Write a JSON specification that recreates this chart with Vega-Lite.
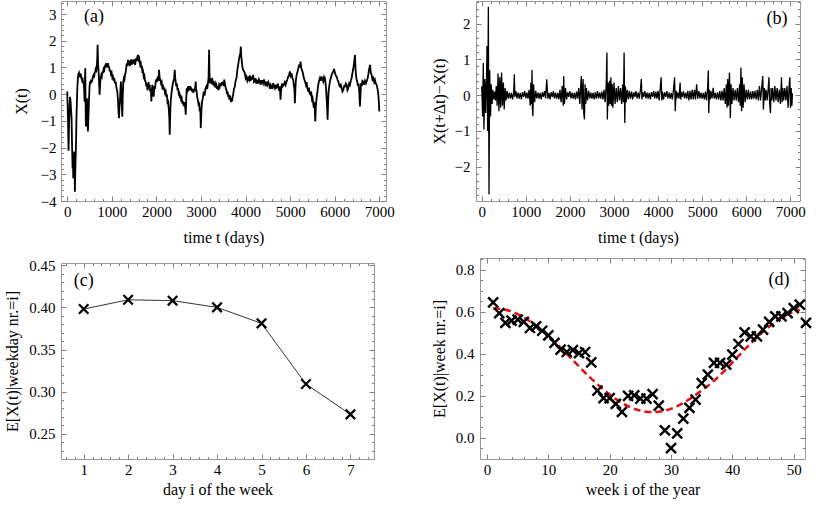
{
"$schema":"https://vega.github.io/schema/vega-lite/v6.json",
"padding":{"left":4,"top":0,"right":4,"bottom":2},
"background":"white",
"config":{
 "font":"Liberation Serif",
 "view":{"stroke":"#999","strokeWidth":1},
 "axis":{"labelFont":"Liberation Serif","labelFontSize":15,"labelColor":"black","titleFont":"Liberation Serif","titleFontSize":16,"titleFontWeight":"normal","titleColor":"black","domain":false,"grid":false,"tickColor":"#808080","tickWidth":1,"labelFlush":false,"labelOverlap":false}
},
"datasets":{
"A":[{"t":0,"v":0.1},{"t":15,"v":-0.8},{"t":30,"v":-2.12},{"t":40,"v":-1.2},{"t":52,"v":-0.52},{"t":63,"v":-0.1},{"t":75,"v":-0.27},{"t":86,"v":-0.6},{"t":97,"v":-0.9},{"t":108,"v":-1.9},{"t":120,"v":-2.77},{"t":128,"v":-2.4},{"t":135,"v":-3.15},{"t":146,"v":-2.5},{"t":157,"v":-2.15},{"t":165,"v":-2.9},{"t":172,"v":-3.65},{"t":184,"v":-2.6},{"t":195,"v":-2.02},{"t":205,"v":-1.0},{"t":217,"v":-0.27},{"t":228,"v":0.3},{"t":240,"v":0.6},{"t":250,"v":0.75},{"t":262,"v":0.8},{"t":276,"v":0.65},{"t":290,"v":0.78},{"t":302,"v":0.6},{"t":314,"v":0.66},{"t":328,"v":0.55},{"t":341,"v":0.62},{"t":355,"v":0.4},{"t":367,"v":0.47},{"t":378,"v":0.2},{"t":389,"v":-0.27},{"t":397,"v":0.5},{"t":404,"v":0.97},{"t":411,"v":-0.3},{"t":419,"v":-1.21},{"t":430,"v":-0.5},{"t":442,"v":-0.15},{"t":453,"v":-0.9},{"t":464,"v":-1.4},{"t":476,"v":-0.8},{"t":487,"v":-0.27},{"t":498,"v":0.2},{"t":509,"v":0.47},{"t":522,"v":0.38},{"t":536,"v":0.55},{"t":549,"v":0.45},{"t":562,"v":0.53},{"t":575,"v":0.65},{"t":588,"v":0.7},{"t":601,"v":0.62},{"t":614,"v":0.79},{"t":627,"v":0.85},{"t":640,"v":0.95},{"t":653,"v":0.9},{"t":666,"v":1.09},{"t":674,"v":1.4},{"t":681,"v":1.85},{"t":692,"v":1.1},{"t":704,"v":0.85},{"t":715,"v":0.4},{"t":726,"v":-0.02},{"t":738,"v":0.4},{"t":749,"v":0.6},{"t":762,"v":0.7},{"t":775,"v":0.65},{"t":788,"v":0.85},{"t":801,"v":0.79},{"t":816,"v":0.95},{"t":831,"v":0.9},{"t":846,"v":1.05},{"t":861,"v":1.1},{"t":874,"v":1.0},{"t":887,"v":1.15},{"t":900,"v":1.08},{"t":913,"v":1.16},{"t":926,"v":1.05},{"t":940,"v":1.0},{"t":953,"v":0.85},{"t":966,"v":0.91},{"t":981,"v":0.75},{"t":996,"v":0.8},{"t":1011,"v":0.62},{"t":1026,"v":0.66},{"t":1041,"v":0.5},{"t":1056,"v":0.6},{"t":1071,"v":0.4},{"t":1086,"v":0.47},{"t":1098,"v":0.3},{"t":1110,"v":0.2},{"t":1123,"v":0.1},{"t":1141,"v":-0.3},{"t":1152,"v":-0.7},{"t":1160,"v":-0.9},{"t":1171,"v":-0.5},{"t":1183,"v":-0.27},{"t":1194,"v":0.2},{"t":1205,"v":0.47},{"t":1220,"v":-0.2},{"t":1235,"v":-0.84},{"t":1246,"v":0.0},{"t":1258,"v":0.47},{"t":1271,"v":0.6},{"t":1284,"v":0.55},{"t":1297,"v":0.75},{"t":1310,"v":0.79},{"t":1323,"v":1.0},{"t":1336,"v":1.15},{"t":1349,"v":1.05},{"t":1363,"v":1.29},{"t":1376,"v":1.1},{"t":1389,"v":1.25},{"t":1402,"v":1.05},{"t":1415,"v":1.16},{"t":1430,"v":1.3},{"t":1445,"v":1.1},{"t":1460,"v":1.2},{"t":1475,"v":1.29},{"t":1490,"v":1.15},{"t":1505,"v":1.3},{"t":1520,"v":1.1},{"t":1535,"v":1.22},{"t":1548,"v":1.35},{"t":1561,"v":1.25},{"t":1574,"v":1.4},{"t":1587,"v":1.47},{"t":1600,"v":1.3},{"t":1612,"v":1.35},{"t":1625,"v":1.22},{"t":1637,"v":1.1},{"t":1650,"v":1.15},{"t":1662,"v":0.97},{"t":1675,"v":1.05},{"t":1687,"v":0.8},{"t":1700,"v":0.85},{"t":1715,"v":0.65},{"t":1730,"v":0.7},{"t":1745,"v":0.5},{"t":1759,"v":0.47},{"t":1772,"v":0.3},{"t":1786,"v":0.4},{"t":1799,"v":0.15},{"t":1812,"v":0.22},{"t":1824,"v":0.45},{"t":1837,"v":0.25},{"t":1849,"v":0.35},{"t":1862,"v":0.1},{"t":1875,"v":0.2},{"t":1887,"v":-0.27},{"t":1898,"v":0.1},{"t":1909,"v":0.35},{"t":1924,"v":0.05},{"t":1939,"v":-0.09},{"t":1954,"v":0.3},{"t":1969,"v":0.2},{"t":1984,"v":0.47},{"t":1997,"v":0.55},{"t":2010,"v":0.45},{"t":2023,"v":0.6},{"t":2036,"v":0.66},{"t":2048,"v":0.5},{"t":2059,"v":0.91},{"t":2074,"v":0.6},{"t":2089,"v":0.53},{"t":2104,"v":0.4},{"t":2119,"v":0.45},{"t":2134,"v":0.25},{"t":2149,"v":0.29},{"t":2164,"v":0.15},{"t":2179,"v":0.25},{"t":2194,"v":0.05},{"t":2209,"v":0.1},{"t":2222,"v":-0.1},{"t":2235,"v":0.0},{"t":2248,"v":-0.3},{"t":2261,"v":-0.27},{"t":2280,"v":-0.6},{"t":2290,"v":-0.9},{"t":2299,"v":-1.52},{"t":2310,"v":-0.7},{"t":2321,"v":-0.27},{"t":2336,"v":0.0},{"t":2351,"v":0.22},{"t":2370,"v":0.4},{"t":2388,"v":0.53},{"t":2400,"v":0.6},{"t":2411,"v":0.91},{"t":2422,"v":0.6},{"t":2433,"v":0.47},{"t":2446,"v":0.3},{"t":2460,"v":0.4},{"t":2473,"v":0.15},{"t":2486,"v":0.22},{"t":2499,"v":0.05},{"t":2512,"v":0.1},{"t":2525,"v":-0.15},{"t":2538,"v":-0.02},{"t":2553,"v":-0.2},{"t":2568,"v":-0.15},{"t":2583,"v":-0.35},{"t":2598,"v":-0.27},{"t":2611,"v":-0.45},{"t":2625,"v":-0.3},{"t":2635,"v":-0.4},{"t":2647,"v":-0.5},{"t":2658,"v":-0.77},{"t":2669,"v":-0.2},{"t":2680,"v":0.22},{"t":2695,"v":0.15},{"t":2710,"v":0.29},{"t":2725,"v":0.2},{"t":2740,"v":0.3},{"t":2755,"v":0.15},{"t":2770,"v":0.25},{"t":2785,"v":0.22},{"t":2800,"v":0.1},{"t":2815,"v":0.2},{"t":2830,"v":0.05},{"t":2845,"v":0.15},{"t":2860,"v":0.16},{"t":2872,"v":0.3},{"t":2883,"v":0.47},{"t":2890,"v":0.1},{"t":2898,"v":0.16},{"t":2915,"v":-0.1},{"t":2935,"v":-0.27},{"t":2950,"v":-0.45},{"t":2962,"v":-0.3},{"t":2972,"v":-0.65},{"t":2985,"v":-0.5},{"t":2995,"v":-1.27},{"t":3010,"v":-0.6},{"t":3025,"v":-0.27},{"t":3043,"v":-0.15},{"t":3062,"v":0.1},{"t":3080,"v":-0.05},{"t":3100,"v":0.2},{"t":3122,"v":0.29},{"t":3140,"v":0.2},{"t":3160,"v":0.47},{"t":3170,"v":0.6},{"t":3182,"v":1.66},{"t":3194,"v":0.5},{"t":3205,"v":0.41},{"t":3220,"v":0.6},{"t":3235,"v":0.45},{"t":3257,"v":0.53},{"t":3270,"v":0.35},{"t":3283,"v":0.5},{"t":3296,"v":0.3},{"t":3309,"v":0.41},{"t":3322,"v":0.25},{"t":3335,"v":0.4},{"t":3347,"v":0.35},{"t":3362,"v":0.2},{"t":3377,"v":0.3},{"t":3392,"v":0.15},{"t":3407,"v":0.35},{"t":3422,"v":0.29},{"t":3437,"v":0.4},{"t":3452,"v":0.3},{"t":3467,"v":0.45},{"t":3482,"v":0.35},{"t":3497,"v":0.47},{"t":3510,"v":0.3},{"t":3522,"v":0.55},{"t":3534,"v":0.41},{"t":3547,"v":0.3},{"t":3560,"v":0.2},{"t":3572,"v":0.16},{"t":3585,"v":0.0},{"t":3598,"v":0.1},{"t":3611,"v":-0.1},{"t":3624,"v":-0.02},{"t":3636,"v":-0.2},{"t":3649,"v":-0.05},{"t":3661,"v":-0.15},{"t":3674,"v":-0.3},{"t":3687,"v":-0.15},{"t":3699,"v":-0.27},{"t":3710,"v":-0.1},{"t":3721,"v":-0.02},{"t":3740,"v":0.2},{"t":3759,"v":0.29},{"t":3777,"v":0.5},{"t":3796,"v":0.6},{"t":3815,"v":0.9},{"t":3834,"v":1.1},{"t":3852,"v":1.3},{"t":3871,"v":1.47},{"t":3882,"v":1.5},{"t":3893,"v":1.78},{"t":3905,"v":1.4},{"t":3916,"v":1.22},{"t":3931,"v":1.0},{"t":3946,"v":0.91},{"t":3965,"v":0.85},{"t":3983,"v":0.79},{"t":4002,"v":0.6},{"t":4021,"v":0.66},{"t":4040,"v":0.5},{"t":4060,"v":0.6},{"t":4080,"v":0.53},{"t":4096,"v":0.7},{"t":4115,"v":0.5},{"t":4133,"v":0.66},{"t":4150,"v":0.55},{"t":4170,"v":0.72},{"t":4190,"v":0.45},{"t":4208,"v":0.47},{"t":4225,"v":0.6},{"t":4243,"v":0.4},{"t":4260,"v":0.53},{"t":4280,"v":0.4},{"t":4300,"v":0.55},{"t":4320,"v":0.47},{"t":4337,"v":0.35},{"t":4355,"v":0.5},{"t":4373,"v":0.5},{"t":4393,"v":0.4},{"t":4413,"v":0.55},{"t":4433,"v":0.41},{"t":4450,"v":0.3},{"t":4470,"v":0.47},{"t":4490,"v":0.35},{"t":4510,"v":0.45},{"t":4530,"v":0.35},{"t":4548,"v":0.2},{"t":4565,"v":0.35},{"t":4582,"v":0.29},{"t":4600,"v":0.2},{"t":4620,"v":0.41},{"t":4638,"v":0.3},{"t":4657,"v":0.22},{"t":4675,"v":0.35},{"t":4692,"v":0.25},{"t":4709,"v":0.29},{"t":4725,"v":0.4},{"t":4740,"v":0.2},{"t":4754,"v":0.16},{"t":4770,"v":0.3},{"t":4784,"v":-0.21},{"t":4795,"v":0.1},{"t":4806,"v":0.29},{"t":4820,"v":0.4},{"t":4836,"v":0.3},{"t":4859,"v":0.35},{"t":4880,"v":0.45},{"t":4900,"v":0.35},{"t":4919,"v":0.47},{"t":4937,"v":0.55},{"t":4956,"v":0.66},{"t":4975,"v":0.7},{"t":4994,"v":0.85},{"t":5012,"v":0.7},{"t":5031,"v":0.79},{"t":5050,"v":0.6},{"t":5069,"v":0.53},{"t":5085,"v":0.3},{"t":5096,"v":0.2},{"t":5106,"v":-0.34},{"t":5118,"v":0.2},{"t":5129,"v":0.53},{"t":5143,"v":0.7},{"t":5158,"v":0.79},{"t":5180,"v":0.95},{"t":5203,"v":1.1},{"t":5218,"v":1.0},{"t":5233,"v":1.22},{"t":5248,"v":1.0},{"t":5263,"v":0.91},{"t":5285,"v":0.8},{"t":5308,"v":0.6},{"t":5330,"v":0.5},{"t":5353,"v":0.35},{"t":5370,"v":0.45},{"t":5388,"v":0.2},{"t":5406,"v":0.1},{"t":5420,"v":0.25},{"t":5434,"v":0.05},{"t":5458,"v":-0.02},{"t":5470,"v":0.1},{"t":5490,"v":-0.2},{"t":5503,"v":-0.15},{"t":5518,"v":-0.35},{"t":5533,"v":-0.52},{"t":5548,"v":-0.3},{"t":5563,"v":-1.02},{"t":5578,"v":-0.4},{"t":5593,"v":-0.15},{"t":5612,"v":0.1},{"t":5630,"v":0.35},{"t":5649,"v":0.5},{"t":5668,"v":0.6},{"t":5686,"v":0.5},{"t":5705,"v":0.66},{"t":5724,"v":0.55},{"t":5743,"v":0.47},{"t":5762,"v":0.65},{"t":5780,"v":0.6},{"t":5795,"v":0.4},{"t":5806,"v":0.2},{"t":5818,"v":-0.15},{"t":5829,"v":-0.5},{"t":5840,"v":-0.96},{"t":5851,"v":-0.3},{"t":5862,"v":0.1},{"t":5877,"v":0.3},{"t":5892,"v":0.47},{"t":5911,"v":0.6},{"t":5930,"v":0.72},{"t":5949,"v":0.8},{"t":5967,"v":0.85},{"t":5986,"v":0.95},{"t":6005,"v":0.79},{"t":6024,"v":0.7},{"t":6042,"v":0.66},{"t":6061,"v":0.55},{"t":6080,"v":0.47},{"t":6098,"v":0.35},{"t":6117,"v":0.29},{"t":6136,"v":0.35},{"t":6155,"v":0.22},{"t":6173,"v":0.1},{"t":6192,"v":0.16},{"t":6211,"v":0.3},{"t":6230,"v":0.29},{"t":6248,"v":0.4},{"t":6267,"v":0.35},{"t":6286,"v":0.15},{"t":6305,"v":0.22},{"t":6323,"v":0.4},{"t":6342,"v":0.35},{"t":6360,"v":0.5},{"t":6379,"v":0.6},{"t":6398,"v":0.8},{"t":6417,"v":0.97},{"t":6436,"v":1.2},{"t":6454,"v":1.47},{"t":6465,"v":1.0},{"t":6476,"v":0.72},{"t":6491,"v":0.55},{"t":6506,"v":0.47},{"t":6520,"v":0.3},{"t":6536,"v":0.4},{"t":6550,"v":0.1},{"t":6566,"v":-0.46},{"t":6578,"v":0.0},{"t":6589,"v":0.41},{"t":6605,"v":0.3},{"t":6620,"v":0.5},{"t":6641,"v":0.47},{"t":6660,"v":0.35},{"t":6680,"v":0.5},{"t":6701,"v":0.41},{"t":6720,"v":0.5},{"t":6738,"v":0.6},{"t":6755,"v":0.75},{"t":6768,"v":0.91},{"t":6780,"v":1.0},{"t":6791,"v":1.1},{"t":6810,"v":0.8},{"t":6828,"v":0.72},{"t":6847,"v":0.55},{"t":6866,"v":0.6},{"t":6885,"v":0.45},{"t":6903,"v":0.53},{"t":6920,"v":0.4},{"t":6940,"v":0.35},{"t":6960,"v":0.2},{"t":6978,"v":-0.02},{"t":6990,"v":-0.3},{"t":7000,"v":-0.65}],
"B":[{"t":0,"v":0.25},{"t":20,"v":-0.6},{"t":35,"v":0.9},{"t":50,"v":-0.96},{"t":70,"v":0.45},{"t":90,"v":-0.5},{"t":110,"v":0.6},{"t":120,"v":1.37},{"t":135,"v":-1.0},{"t":150,"v":2.47},{"t":165,"v":-2.78},{"t":180,"v":0.7},{"t":200,"v":-0.6},{"t":215,"v":0.3},{"t":235,"v":-0.25},{"t":250,"v":0.15},{"t":270,"v":-0.12},{"t":290,"v":0.1},{"t":310,"v":-0.15},{"t":330,"v":0.25},{"t":350,"v":-0.3},{"t":370,"v":0.6},{"t":390,"v":-0.45},{"t":410,"v":0.5},{"t":430,"v":-0.35},{"t":450,"v":0.63},{"t":470,"v":-0.3},{"t":490,"v":0.35},{"t":510,"v":-0.4},{"t":530,"v":0.2},{"t":550,"v":-0.15},{"t":575,"v":0.12},{"t":600,"v":-0.1},{"t":625,"v":0.07},{"t":650,"v":-0.1},{"t":675,"v":0.06},{"t":700,"v":-0.12},{"t":725,"v":0.08},{"t":740,"v":0.58},{"t":750,"v":-0.05},{"t":775,"v":0.11},{"t":800,"v":-0.09},{"t":825,"v":0.07},{"t":850,"v":-0.1},{"t":875,"v":0.06},{"t":900,"v":-0.12},{"t":925,"v":0.08},{"t":950,"v":-0.05},{"t":975,"v":0.11},{"t":1000,"v":-0.09},{"t":1025,"v":0.07},{"t":1050,"v":-0.1},{"t":1075,"v":0.15},{"t":1100,"v":-0.3},{"t":1115,"v":0.35},{"t":1130,"v":-0.25},{"t":1140,"v":0.7},{"t":1150,"v":-0.35},{"t":1160,"v":-0.59},{"t":1175,"v":0.3},{"t":1200,"v":-0.2},{"t":1225,"v":0.12},{"t":1250,"v":-0.09},{"t":1275,"v":0.07},{"t":1300,"v":-0.1},{"t":1325,"v":0.06},{"t":1350,"v":-0.12},{"t":1375,"v":0.08},{"t":1400,"v":-0.05},{"t":1425,"v":0.11},{"t":1450,"v":-0.09},{"t":1475,"v":0.44},{"t":1500,"v":-0.1},{"t":1525,"v":0.06},{"t":1550,"v":-0.12},{"t":1575,"v":0.08},{"t":1600,"v":-0.05},{"t":1625,"v":0.11},{"t":1650,"v":-0.09},{"t":1675,"v":0.07},{"t":1700,"v":-0.1},{"t":1725,"v":0.06},{"t":1750,"v":-0.12},{"t":1775,"v":0.15},{"t":1800,"v":-0.2},{"t":1825,"v":0.25},{"t":1850,"v":-0.3},{"t":1860,"v":0.53},{"t":1875,"v":-0.25},{"t":1900,"v":0.2},{"t":1925,"v":-0.12},{"t":1950,"v":0.08},{"t":1975,"v":-0.05},{"t":2000,"v":0.11},{"t":2025,"v":-0.09},{"t":2050,"v":0.07},{"t":2075,"v":-0.1},{"t":2100,"v":0.06},{"t":2125,"v":-0.12},{"t":2150,"v":0.1},{"t":2175,"v":-0.1},{"t":2200,"v":0.2},{"t":2225,"v":-0.25},{"t":2250,"v":0.35},{"t":2260,"v":0.53},{"t":2275,"v":-0.4},{"t":2300,"v":0.45},{"t":2315,"v":-0.5},{"t":2330,"v":-0.68},{"t":2345,"v":0.3},{"t":2360,"v":-0.25},{"t":2375,"v":0.2},{"t":2400,"v":-0.15},{"t":2425,"v":0.12},{"t":2450,"v":-0.09},{"t":2475,"v":0.07},{"t":2500,"v":-0.1},{"t":2525,"v":0.06},{"t":2550,"v":-0.12},{"t":2575,"v":0.08},{"t":2600,"v":-0.1},{"t":2625,"v":0.11},{"t":2650,"v":-0.09},{"t":2675,"v":0.07},{"t":2700,"v":-0.1},{"t":2725,"v":0.1},{"t":2750,"v":-0.12},{"t":2775,"v":0.15},{"t":2800,"v":-0.2},{"t":2825,"v":0.3},{"t":2840,"v":1.19},{"t":2850,"v":-0.68},{"t":2865,"v":0.35},{"t":2880,"v":-0.3},{"t":2900,"v":0.4},{"t":2915,"v":-0.25},{"t":2930,"v":0.5},{"t":2945,"v":-0.3},{"t":2960,"v":0.3},{"t":2975,"v":-0.35},{"t":3000,"v":0.35},{"t":3025,"v":-0.25},{"t":3050,"v":0.2},{"t":3075,"v":-0.2},{"t":3100,"v":0.25},{"t":3125,"v":-0.15},{"t":3150,"v":0.2},{"t":3175,"v":-0.25},{"t":3200,"v":0.3},{"t":3215,"v":-0.2},{"t":3230,"v":1.19},{"t":3245,"v":-0.78},{"t":3260,"v":0.25},{"t":3275,"v":-0.2},{"t":3300,"v":0.15},{"t":3325,"v":-0.12},{"t":3350,"v":0.12},{"t":3375,"v":-0.1},{"t":3400,"v":0.1},{"t":3425,"v":-0.12},{"t":3450,"v":0.08},{"t":3475,"v":-0.05},{"t":3500,"v":0.11},{"t":3525,"v":-0.09},{"t":3550,"v":0.07},{"t":3575,"v":-0.1},{"t":3600,"v":0.15},{"t":3620,"v":0.45},{"t":3635,"v":-0.12},{"t":3650,"v":0.08},{"t":3675,"v":-0.05},{"t":3700,"v":0.11},{"t":3725,"v":-0.09},{"t":3750,"v":0.07},{"t":3775,"v":-0.1},{"t":3800,"v":0.06},{"t":3825,"v":-0.12},{"t":3850,"v":0.08},{"t":3875,"v":-0.05},{"t":3900,"v":0.11},{"t":3925,"v":-0.09},{"t":3950,"v":0.1},{"t":3975,"v":-0.1},{"t":4000,"v":0.12},{"t":4025,"v":-0.15},{"t":4050,"v":0.2},{"t":4070,"v":0.5},{"t":4085,"v":-0.15},{"t":4100,"v":0.1},{"t":4125,"v":-0.12},{"t":4150,"v":0.08},{"t":4175,"v":-0.05},{"t":4200,"v":0.11},{"t":4225,"v":-0.09},{"t":4250,"v":0.07},{"t":4275,"v":-0.1},{"t":4300,"v":0.06},{"t":4325,"v":-0.12},{"t":4350,"v":0.15},{"t":4375,"v":0.5},{"t":4390,"v":-0.45},{"t":4410,"v":0.12},{"t":4425,"v":-0.09},{"t":4450,"v":0.07},{"t":4475,"v":-0.1},{"t":4500,"v":0.35},{"t":4515,"v":-0.12},{"t":4525,"v":0.08},{"t":4550,"v":-0.05},{"t":4575,"v":0.11},{"t":4600,"v":-0.09},{"t":4625,"v":0.07},{"t":4650,"v":-0.1},{"t":4675,"v":0.12},{"t":4700,"v":-0.15},{"t":4725,"v":0.12},{"t":4750,"v":-0.12},{"t":4775,"v":0.15},{"t":4800,"v":-0.12},{"t":4825,"v":0.15},{"t":4850,"v":-0.12},{"t":4875,"v":0.3},{"t":4900,"v":-0.1},{"t":4925,"v":0.11},{"t":4950,"v":-0.09},{"t":4975,"v":0.07},{"t":5000,"v":-0.1},{"t":5025,"v":0.06},{"t":5050,"v":-0.12},{"t":5075,"v":0.1},{"t":5100,"v":-0.15},{"t":5125,"v":0.2},{"t":5140,"v":0.69},{"t":5150,"v":-0.5},{"t":5165,"v":0.15},{"t":5185,"v":-0.12},{"t":5200,"v":0.11},{"t":5225,"v":-0.09},{"t":5250,"v":0.2},{"t":5275,"v":-0.1},{"t":5300,"v":0.06},{"t":5325,"v":-0.12},{"t":5350,"v":0.08},{"t":5375,"v":-0.12},{"t":5400,"v":0.11},{"t":5425,"v":-0.15},{"t":5450,"v":0.12},{"t":5475,"v":-0.15},{"t":5500,"v":0.2},{"t":5525,"v":-0.25},{"t":5550,"v":0.3},{"t":5565,"v":-0.35},{"t":5580,"v":0.45},{"t":5595,"v":-0.3},{"t":5620,"v":0.63},{"t":5640,"v":-0.64},{"t":5655,"v":0.3},{"t":5675,"v":-0.25},{"t":5700,"v":0.2},{"t":5725,"v":-0.15},{"t":5750,"v":0.15},{"t":5775,"v":-0.15},{"t":5800,"v":0.2},{"t":5825,"v":-0.2},{"t":5850,"v":0.3},{"t":5865,"v":-0.3},{"t":5880,"v":0.77},{"t":5895,"v":-0.45},{"t":5910,"v":0.5},{"t":5930,"v":-0.35},{"t":5950,"v":0.3},{"t":5975,"v":-0.2},{"t":6000,"v":0.15},{"t":6025,"v":-0.12},{"t":6050,"v":0.15},{"t":6075,"v":-0.12},{"t":6100,"v":0.1},{"t":6125,"v":-0.12},{"t":6150,"v":0.11},{"t":6175,"v":-0.1},{"t":6200,"v":0.12},{"t":6225,"v":-0.12},{"t":6250,"v":0.15},{"t":6275,"v":-0.15},{"t":6300,"v":0.25},{"t":6325,"v":-0.15},{"t":6350,"v":0.2},{"t":6375,"v":0.53},{"t":6390,"v":-0.4},{"t":6410,"v":0.2},{"t":6430,"v":-0.15},{"t":6450,"v":0.15},{"t":6475,"v":-0.15},{"t":6500,"v":0.2},{"t":6515,"v":0.5},{"t":6530,"v":-0.2},{"t":6550,"v":-0.5},{"t":6565,"v":0.2},{"t":6580,"v":-0.15},{"t":6600,"v":0.2},{"t":6625,"v":-0.2},{"t":6650,"v":0.25},{"t":6675,"v":-0.15},{"t":6700,"v":0.2},{"t":6725,"v":-0.2},{"t":6750,"v":0.15},{"t":6775,"v":-0.25},{"t":6800,"v":0.5},{"t":6815,"v":-0.2},{"t":6830,"v":0.2},{"t":6850,"v":-0.15},{"t":6875,"v":0.2},{"t":6900,"v":-0.15},{"t":6925,"v":0.25},{"t":6950,"v":-0.35},{"t":6975,"v":0.3},{"t":6990,"v":0.5},{"t":7005,"v":-0.35},{"t":7020,"v":0.2},{"t":7035,"v":-0.3},{"t":7050,"v":0.05}],
"C":[{"d":1,"m":0.398},{"d":2,"m":0.409},{"d":3,"m":0.408},{"d":4,"m":0.4},{"d":5,"m":0.381},{"d":6,"m":0.309},{"d":7,"m":0.273}],
"D":[{"w":1,"m":0.645},{"w":2,"m":0.594},{"w":3,"m":0.547},{"w":4,"m":0.558},{"w":5,"m":0.563},{"w":6,"m":0.552},{"w":7,"m":0.523},{"w":8,"m":0.531},{"w":9,"m":0.51},{"w":10,"m":0.488},{"w":11,"m":0.452},{"w":12,"m":0.42},{"w":13,"m":0.409},{"w":14,"m":0.418},{"w":15,"m":0.404},{"w":16,"m":0.409},{"w":17,"m":0.36},{"w":18,"m":0.225},{"w":19,"m":0.19},{"w":20,"m":0.19},{"w":21,"m":0.162},{"w":22,"m":0.124},{"w":23,"m":0.2},{"w":24,"m":0.203},{"w":25,"m":0.187},{"w":26,"m":0.187},{"w":27,"m":0.209},{"w":28,"m":0.154},{"w":29,"m":0.036},{"w":30,"m":-0.048},{"w":31,"m":0.022},{"w":32,"m":0.092},{"w":33,"m":0.143},{"w":34,"m":0.182},{"w":35,"m":0.261},{"w":36,"m":0.301},{"w":37,"m":0.357},{"w":38,"m":0.357},{"w":39,"m":0.349},{"w":40,"m":0.396},{"w":41,"m":0.447},{"w":42,"m":0.502},{"w":43,"m":0.483},{"w":44,"m":0.483},{"w":45,"m":0.515},{"w":46,"m":0.552},{"w":47,"m":0.578},{"w":48,"m":0.578},{"w":49,"m":0.594},{"w":50,"m":0.618},{"w":51,"m":0.634},{"w":52,"m":0.547}],
"F":[{"w":1,"f":0.617},{"w":3,"f":0.61},{"w":5,"f":0.589},{"w":7,"f":0.555},{"w":9,"f":0.51},{"w":11,"f":0.458},{"w":13,"f":0.4},{"w":15,"f":0.34},{"w":17,"f":0.282},{"w":19,"f":0.23},{"w":21,"f":0.185},{"w":23,"f":0.151},{"w":25,"f":0.13},{"w":27,"f":0.123},{"w":29,"f":0.13},{"w":31,"f":0.151},{"w":33,"f":0.185},{"w":35,"f":0.226},{"w":37,"f":0.272},{"w":39,"f":0.328},{"w":41,"f":0.39},{"w":43,"f":0.45},{"w":45,"f":0.505},{"w":47,"f":0.552},{"w":49,"f":0.588},{"w":51,"f":0.61}]
},
"columns":2,
"align":"none",
"bounds":"full",
"spacing":{"row":11,"column":35},
"concat":[
 {"width":325,"height":200,"data":{"name":"A"},
  "layer":[
   {"mark":{"type":"line","color":"black","strokeWidth":1.8},
    "encoding":{
     "x":{"field":"t","type":"quantitative","scale":{"domain":[-140,7150],"nice":false,"zero":false},
      "axis":{"orient":"bottom","title":"time t (days)","values":[0,1000,2000,3000,4000,5000,6000,7000],"format":"d","tickSize":-5,"labelPadding":8,"titlePadding":10,"labelOverlap":false,"labelFlush":false}},
     "y":{"field":"v","type":"quantitative","scale":{"domain":[-4,3.49],"nice":false,"zero":false},
      "axis":{"orient":"left","title":"X(t)","values":[-4,-3,-2,-1,0,1,2,3],"format":"d","tickSize":-5,"labelPadding":10,"titlePadding":11,"labelOverlap":false}}
    }},
   {"mark":{"type":"point","opacity":0},
    "encoding":{
     "x":{"field":"t","type":"quantitative","axis":{"orient":"top","title":null,"labels":false,"values":[0,1000,2000,3000,4000,5000,6000,7000],"tickSize":-5}},
     "y":{"field":"v","type":"quantitative","axis":{"orient":"right","title":null,"labels":false,"values":[-4,-3,-2,-1,0,1,2,3],"tickSize":-5}}
    }},
   {"mark":{"type":"point","opacity":0},
    "encoding":{
     "x":{"field":"t","type":"quantitative","axis":{"orient":"bottom","title":null,"labels":false,"values":[200,400,600,800,1200,1400,1600,1800,2200,2400,2600,2800,3200,3400,3600,3800,4200,4400,4600,4800,5200,5400,5600,5800,6200,6400,6600,6800],"tickSize":-2.5}},
     "y":{"field":"v","type":"quantitative","axis":{"orient":"left","title":null,"labels":false,"values":[-3.8,-3.6,-3.4,-3.2,-2.8,-2.6,-2.4,-2.2,-1.8,-1.6,-1.4,-1.2,-0.8,-0.6,-0.4,-0.2,0.2,0.4,0.6,0.8,1.2,1.4,1.6,1.8,2.2,2.4,2.6,2.8,3.2,3.4],"tickSize":-2.5}}
    }},
   {"mark":{"type":"point","opacity":0},
    "encoding":{
     "x":{"field":"t","type":"quantitative","axis":{"orient":"top","title":null,"labels":false,"values":[200,400,600,800,1200,1400,1600,1800,2200,2400,2600,2800,3200,3400,3600,3800,4200,4400,4600,4800,5200,5400,5600,5800,6200,6400,6600,6800],"tickSize":-2.5}},
     "y":{"field":"v","type":"quantitative","axis":{"orient":"right","title":null,"labels":false,"values":[-3.8,-3.6,-3.4,-3.2,-2.8,-2.6,-2.4,-2.2,-1.8,-1.6,-1.4,-1.2,-0.8,-0.6,-0.4,-0.2,0.2,0.4,0.6,0.8,1.2,1.4,1.6,1.8,2.2,2.4,2.6,2.8,3.2,3.4],"tickSize":-2.5}}
    }},
   {"data":{"values":[{}]},"mark":{"type":"text","font":"Liberation Serif","fontSize":18,"color":"black"},
    "encoding":{"x":{"datum":600,"type":"quantitative","axis":null},"y":{"datum":2.9,"type":"quantitative","axis":null},"text":{"value":"(a)"}}}
  ],
  "resolve":{"axis":{"x":"independent","y":"independent"}}},
 {"width":324,"height":200,"data":{"name":"B"},
  "layer":[
   {"mark":{"type":"line","color":"black","strokeWidth":1.3},
    "encoding":{
     "x":{"field":"t","type":"quantitative","scale":{"domain":[-130,7220],"nice":false,"zero":false},
      "axis":{"orient":"bottom","title":"time t (days)","values":[0,1000,2000,3000,4000,5000,6000,7000],"format":"d","tickSize":-5,"labelPadding":8,"titlePadding":10,"labelOverlap":false,"labelFlush":false}},
     "y":{"field":"v","type":"quantitative","scale":{"domain":[-2.96,2.63],"nice":false,"zero":false},
      "axis":{"orient":"left","title":"X(t+Δt)−X(t)","values":[-2,-1,0,1,2],"format":"d","tickSize":-5,"labelPadding":11,"titlePadding":7,"labelOverlap":false}}
    }},
   {"mark":{"type":"point","opacity":0},
    "encoding":{
     "x":{"field":"t","type":"quantitative","axis":{"orient":"top","title":null,"labels":false,"values":[0,1000,2000,3000,4000,5000,6000,7000],"tickSize":-5}},
     "y":{"field":"v","type":"quantitative","axis":{"orient":"right","title":null,"labels":false,"values":[-2,-1,0,1,2],"tickSize":-5}}
    }},
   {"mark":{"type":"point","opacity":0},
    "encoding":{
     "x":{"field":"t","type":"quantitative","axis":{"orient":"bottom","title":null,"labels":false,"values":[200,400,600,800,1200,1400,1600,1800,2200,2400,2600,2800,3200,3400,3600,3800,4200,4400,4600,4800,5200,5400,5600,5800,6200,6400,6600,6800],"tickSize":-2.5}},
     "y":{"field":"v","type":"quantitative","axis":{"orient":"left","title":null,"labels":false,"values":[-2.8,-2.6,-2.4,-2.2,-1.8,-1.6,-1.4,-1.2,-0.8,-0.6,-0.4,-0.2,0.2,0.4,0.6,0.8,1.2,1.4,1.6,1.8,2.2,2.4,2.6],"tickSize":-2.5}}
    }},
   {"mark":{"type":"point","opacity":0},
    "encoding":{
     "x":{"field":"t","type":"quantitative","axis":{"orient":"top","title":null,"labels":false,"values":[200,400,600,800,1200,1400,1600,1800,2200,2400,2600,2800,3200,3400,3600,3800,4200,4400,4600,4800,5200,5400,5600,5800,6200,6400,6600,6800],"tickSize":-2.5}},
     "y":{"field":"v","type":"quantitative","axis":{"orient":"right","title":null,"labels":false,"values":[-2.8,-2.6,-2.4,-2.2,-1.8,-1.6,-1.4,-1.2,-0.8,-0.6,-0.4,-0.2,0.2,0.4,0.6,0.8,1.2,1.4,1.6,1.8,2.2,2.4,2.6],"tickSize":-2.5}}
    }},
   {"data":{"values":[{}]},"mark":{"type":"text","font":"Liberation Serif","fontSize":18,"color":"black"},
    "encoding":{"x":{"datum":6698,"type":"quantitative","axis":null},"y":{"datum":2.13,"type":"quantitative","axis":null},"text":{"value":"(b)"}}}
  ],
  "resolve":{"axis":{"x":"independent","y":"independent"}}},
 {"width":313,"height":196,"data":{"name":"C"},
  "layer":[
   {"mark":{"type":"line","color":"black","strokeWidth":0.8},
    "encoding":{
     "x":{"field":"d","type":"quantitative","scale":{"domain":[0.49,7.53],"nice":false,"zero":false},
      "axis":{"orient":"bottom","title":"day i of the week","values":[1,2,3,4,5,6,7],"format":"d","tickSize":-5,"labelPadding":8,"titlePadding":4,"labelOverlap":false,"labelFlush":false}},
     "y":{"field":"m","type":"quantitative","scale":{"domain":[0.22,0.4527],"nice":false,"zero":false},
      "axis":{"orient":"left","title":"E[X(t)|weekday nr.=i]","values":[0.25,0.3,0.35,0.4,0.45],"format":".2f","tickSize":-5,"labelPadding":11,"titlePadding":8,"labelOverlap":false}}
    }},
   {"mark":{"type":"point","shape":"M-1,-1L1,1M-1,1L1,-1","filled":false,"color":"black","strokeWidth":2.2,"size":90,"opacity":1},
    "encoding":{"x":{"field":"d","type":"quantitative","axis":null},"y":{"field":"m","type":"quantitative","axis":null}}},
   {"mark":{"type":"point","opacity":0},
    "encoding":{
     "x":{"field":"d","type":"quantitative","axis":{"orient":"top","title":null,"labels":false,"values":[1,2,3,4,5,6,7],"tickSize":-5}},
     "y":{"field":"m","type":"quantitative","axis":{"orient":"right","title":null,"labels":false,"values":[0.25,0.3,0.35,0.4,0.45],"tickSize":-5}}
    }},
   {"mark":{"type":"point","opacity":0},
    "encoding":{
     "x":{"field":"d","type":"quantitative","axis":{"orient":"bottom","title":null,"labels":false,"values":[0.6,0.8,1.2,1.4,1.6,1.8,2.2,2.4,2.6,2.8,3.2,3.4,3.6,3.8,4.2,4.4,4.6,4.8,5.2,5.4,5.6,5.8,6.2,6.4,6.6,6.8,7.2,7.4],"tickSize":-2.5}},
     "y":{"field":"m","type":"quantitative","axis":{"orient":"left","title":null,"labels":false,"values":[0.23,0.24,0.26,0.27,0.28,0.29,0.31,0.32,0.33,0.34,0.36,0.37,0.38,0.39,0.41,0.42,0.43,0.44],"tickSize":-2.5}}
    }},
   {"mark":{"type":"point","opacity":0},
    "encoding":{
     "x":{"field":"d","type":"quantitative","axis":{"orient":"top","title":null,"labels":false,"values":[0.6,0.8,1.2,1.4,1.6,1.8,2.2,2.4,2.6,2.8,3.2,3.4,3.6,3.8,4.2,4.4,4.6,4.8,5.2,5.4,5.6,5.8,6.2,6.4,6.6,6.8,7.2,7.4],"tickSize":-2.5}},
     "y":{"field":"m","type":"quantitative","axis":{"orient":"right","title":null,"labels":false,"values":[0.23,0.24,0.26,0.27,0.28,0.29,0.31,0.32,0.33,0.34,0.36,0.37,0.38,0.39,0.41,0.42,0.43,0.44],"tickSize":-2.5}}
    }},
   {"data":{"values":[{}]},"mark":{"type":"text","font":"Liberation Serif","fontSize":18,"color":"black"},
    "encoding":{"x":{"datum":1.0,"type":"quantitative","axis":null},"y":{"datum":0.431,"type":"quantitative","axis":null},"text":{"value":"(c)"}}}
  ],
  "resolve":{"axis":{"x":"independent","y":"independent"}}},
 {"width":325,"height":201,
  "layer":[
   {"data":{"name":"F"},"mark":{"type":"line","color":"#e01010","strokeWidth":2.5,"strokeDash":[7,4],"interpolate":"monotone"},
    "encoding":{
     "x":{"field":"w","type":"quantitative","scale":{"domain":[-1.14,51.84],"nice":false,"zero":false},
      "axis":{"orient":"bottom","title":"week i of the year","values":[0,10,20,30,40,50],"format":"d","tickSize":-5,"labelPadding":8,"titlePadding":4,"labelOverlap":false,"labelFlush":false}},
     "y":{"field":"f","type":"quantitative","scale":{"domain":[-0.1,0.856],"nice":false,"zero":false},
      "axis":{"orient":"left","title":"E[X(t)|week nr.=i]","values":[0,0.2,0.4,0.6,0.8],"format":".1f","tickSize":-5,"labelPadding":11,"titlePadding":8,"labelOverlap":false}}
    }},
   {"data":{"name":"D"},"mark":{"type":"point","shape":"M-1,-1L1,1M-1,1L1,-1","filled":false,"color":"black","strokeWidth":2.4,"size":100,"opacity":1},
    "encoding":{"x":{"field":"w","type":"quantitative","axis":null},"y":{"field":"m","type":"quantitative","axis":null}}},
   {"data":{"name":"D"},"mark":{"type":"point","opacity":0},
    "encoding":{
     "x":{"field":"w","type":"quantitative","axis":{"orient":"top","title":null,"labels":false,"values":[0,10,20,30,40,50],"tickSize":-5}},
     "y":{"field":"m","type":"quantitative","axis":{"orient":"right","title":null,"labels":false,"values":[0,0.2,0.4,0.6,0.8],"tickSize":-5}}
    }},
   {"data":{"name":"D"},"mark":{"type":"point","opacity":0},
    "encoding":{
     "x":{"field":"w","type":"quantitative","axis":{"orient":"bottom","title":null,"labels":false,"values":[2,4,6,8,12,14,16,18,22,24,26,28,32,34,36,38,42,44,46,48],"tickSize":-2.5}},
     "y":{"field":"m","type":"quantitative","axis":{"orient":"left","title":null,"labels":false,"values":[-0.05,0.05,0.1,0.15,0.25,0.3,0.35,0.45,0.5,0.55,0.65,0.7,0.75,0.85],"tickSize":-2.5}}
    }},
   {"data":{"name":"D"},"mark":{"type":"point","opacity":0},
    "encoding":{
     "x":{"field":"w","type":"quantitative","axis":{"orient":"top","title":null,"labels":false,"values":[2,4,6,8,12,14,16,18,22,24,26,28,32,34,36,38,42,44,46,48],"tickSize":-2.5}},
     "y":{"field":"m","type":"quantitative","axis":{"orient":"right","title":null,"labels":false,"values":[-0.05,0.05,0.1,0.15,0.25,0.3,0.35,0.45,0.5,0.55,0.65,0.7,0.75,0.85],"tickSize":-2.5}}
    }},
   {"data":{"values":[{}]},"mark":{"type":"text","font":"Liberation Serif","fontSize":18,"color":"black"},
    "encoding":{"x":{"datum":47.6,"type":"quantitative","axis":null},"y":{"datum":0.752,"type":"quantitative","axis":null},"text":{"value":"(d)"}}}
  ],
  "resolve":{"axis":{"x":"independent","y":"independent"}}}
]
}
